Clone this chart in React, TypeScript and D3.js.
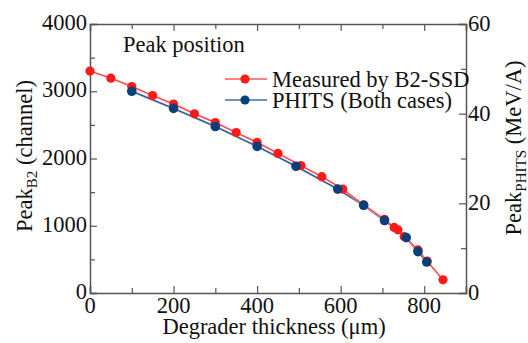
import { useEffect, useRef } from 'react';
import * as d3 from 'd3';

// degrader thickness (um) / peak position (channel)
const measuredX = [0, 50, 100, 150, 200, 250, 300, 350, 400, 450, 505, 555, 605, 655, 705, 728, 737, 752, 785, 807, 845];
const measuredY = [3300, 3195, 3070, 2935, 2810, 2665, 2535, 2385, 2240, 2075, 1895, 1730, 1545, 1310, 1095, 975, 940, 840, 640, 475, 196];
const phitsX = [100, 200, 300, 400, 493, 593, 655, 705, 757, 785, 806];
const phitsY = [3000, 2745, 2475, 2180, 1885, 1545, 1305, 1078, 824, 615, 460];

const xTicks = [0, 200, 400, 600, 800];
const yTicks = [0, 1000, 2000, 3000, 4000];
const y2Ticks = [0, 20, 40, 60];

const legendLabels = ['Measured by B2-SSD', 'PHITS (Both cases)'];

const FONT = '"Liberation Serif", "Times New Roman", Times, serif';

export default function App() {
  const svgRef = useRef<SVGSVGElement>(null);
  const width = 528;
  const height = 343;

  useEffect(() => {
    if (!svgRef.current) return;
    const svg = d3.select(svgRef.current);
    svg.selectAll('*').remove();

    const margin = { top: 24, right: 62, bottom: 50, left: 90 };
    const innerW = width - margin.left - margin.right;
    const innerH = height - margin.top - margin.bottom;
    const fs = 22.5;
    const axisColor = '#555';

    const x = d3.scaleLinear().domain([0, 900]).range([0, innerW]);
    const y = d3.scaleLinear().domain([0, 4000]).range([innerH, 0]);
    const y2 = d3.scaleLinear().domain([0, 60]).range([innerH, 0]);

    const g = svg.append('g').attr('transform', `translate(${margin.left},${margin.top})`);

    const label = (parent: any, tx: number, ty: number, anchor: string, rot = 0) =>
      parent.append('text')
        .attr('transform', `translate(${tx},${ty}) rotate(${rot})`)
        .attr('text-anchor', anchor)
        .style('font-family', FONT)
        .style('font-size', `${fs}px`)
        .attr('fill', '#111');

    // frame with inward ticks
    const bottomAxis = d3.axisBottom(x).tickValues(d3.range(0, 901, 100)).tickSize(-7).tickFormat(() => '');
    const topAxis = d3.axisTop(x).tickValues(d3.range(0, 901, 100)).tickSize(-7).tickFormat(() => '');
    const leftAxis = d3.axisLeft(y).tickValues(d3.range(0, 4001, 500)).tickSize(-7).tickFormat(() => '');
    const rightAxis = d3.axisRight(y2).tickValues(d3.range(0, 61, 10)).tickSize(-7).tickFormat(() => '');

    const axes = [
      g.append('g').attr('transform', `translate(0,${innerH})`).call(bottomAxis),
      g.append('g').call(topAxis),
      g.append('g').call(leftAxis),
      g.append('g').attr('transform', `translate(${innerW},0)`).call(rightAxis),
    ];
    axes.forEach(a => {
      a.select('.domain').attr('stroke', axisColor).attr('stroke-width', 1.5);
      a.selectAll('.tick line').attr('stroke', axisColor).attr('stroke-width', 1.2);
    });
    axes[0].selectAll<SVGLineElement, number>('.tick line').attr('y2', d => (d % 200 === 0 ? -7 : -5));
    axes[1].selectAll<SVGLineElement, number>('.tick line').attr('y2', d => (d % 200 === 0 ? 7 : 5));
    axes[2].selectAll<SVGLineElement, number>('.tick line').attr('x2', d => (d % 1000 === 0 ? 7 : 5));
    axes[3].selectAll<SVGLineElement, number>('.tick line').attr('x2', d => (d % 20 === 0 ? -7 : -5));

    // tick labels
    xTicks.forEach(d => label(g, x(d), innerH + 20, 'middle').text(String(d)));
    yTicks.forEach(d => label(g, -3, y(d) + 6, 'end').text(String(d)));
    y2Ticks.forEach(d => label(g, innerW + 2, y2(d) + 7, 'start').text(String(d)));

    // axis titles
    label(g, innerW / 2 - 4, innerH + 41, 'middle').text('Degrader thickness (\u03bcm)');

    const yl = label(g, -58, 132, 'middle', -90);
    yl.append('tspan').text('Peak');
    yl.append('tspan').style('font-size', '15px').attr('dy', 5).text('B2');
    yl.append('tspan').attr('dy', -5).text(' (channel)');

    const yr = label(g, innerW + 55, 124, 'middle', -90);
    yr.append('tspan').text('Peak');
    yr.append('tspan').style('font-size', '15px').attr('dy', 5).text('PHITS');
    yr.append('tspan').attr('dy', -5).text(' (MeV/A)');

    label(g, 33, 28, 'start').text('Peak position');

    // series
    const red = '#ff1a1a';
    const blue = '#0b3f7a';
    const line = d3.line<[number, number]>().x(d => x(d[0])).y(d => y(d[1]));
    const mPts = measuredX.map((v, i) => [v, measuredY[i]] as [number, number]);
    const pPts = phitsX.map((v, i) => [v, phitsY[i]] as [number, number]);

    g.append('path').datum(pPts).attr('d', line).attr('fill', 'none')
      .attr('stroke', '#7a9cc4').attr('stroke-width', 2.2);
    g.append('path').datum(pPts).attr('d', line).attr('fill', 'none')
      .attr('stroke', blue).attr('stroke-width', 0.8);
    g.append('path').datum(mPts).attr('d', line).attr('fill', 'none')
      .attr('stroke', '#ff9a9a').attr('stroke-width', 2);
    g.append('path').datum(mPts).attr('d', line).attr('fill', 'none')
      .attr('stroke', red).attr('stroke-width', 0.8);

    g.selectAll('.pm').data(mPts).enter().append('circle')
      .attr('cx', d => x(d[0])).attr('cy', d => y(d[1])).attr('r', 4.6).attr('fill', red);
    g.selectAll('.pp').data(pPts).enter().append('circle')
      .attr('cx', d => x(d[0])).attr('cy', d => y(d[1])).attr('r', 4.8).attr('fill', blue);

    // legend
    const legendColors = [[red, '#ff8080'], [blue, '#6f93c0']];
    legendLabels.forEach((lab, i) => {
      const ly = 55 + i * 21;
      g.append('line').attr('x1', 135).attr('x2', 177).attr('y1', ly).attr('y2', ly)
        .attr('stroke', legendColors[i][1]).attr('stroke-width', 2);
      g.append('circle').attr('cx', 155).attr('cy', ly).attr('r', 4.6).attr('fill', legendColors[i][0]);
      label(g, 182, ly + 8, 'start').text(lab);
    });
  }, []);

  return (
    <svg ref={svgRef} width={width} height={height}
      style={{ position: 'absolute', left: 0, top: 0, background: '#fff', fontFamily: FONT }} />
  );
}
